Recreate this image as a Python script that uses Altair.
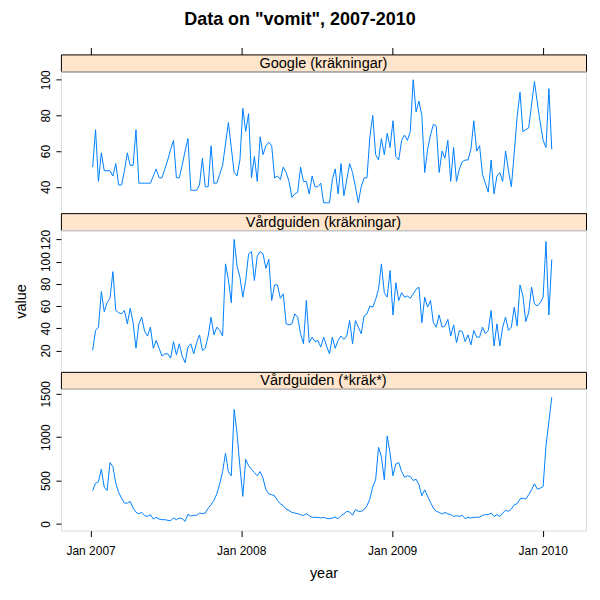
import altair as alt
import pandas as pd

# ---- data (weekly values) ----
dates = pd.date_range("2007-01-06", periods=160, freq="7D").strftime("%Y-%m-%d").tolist()

google = [51, 72, 43, 59, 49, 49, 49, 46, 53, 41,
          41, 49, 59, 52, 52, 72, 42, 42, 42, 42,
          42, 46, 50, 45, 45, 50, 55, 61, 66, 45,
          45, 52, 60, 67, 38, 38, 38, 41, 56, 40,
          40, 63, 42, 42, 47, 52, 64, 76, 62, 48,
          46, 55, 84, 71, 81, 45, 57, 43, 68, 58,
          63, 65, 63, 45, 46, 44, 51, 48, 43, 34,
          36, 37, 51, 43, 43, 36, 46, 40, 40, 42,
          31, 31, 31, 44, 50, 36, 53, 35, 44, 53,
          48, 40, 31, 40, 45, 45, 68, 80, 58, 55,
          67, 58, 70, 62, 77, 57, 55, 66, 69, 66,
          71, 100, 82, 88, 80, 48, 61, 69, 75, 74,
          48, 60, 56, 66, 43, 62, 43, 50, 54, 55,
          55, 61, 77, 60, 63, 47, 42, 37, 55, 36,
          46, 48, 43, 60, 49, 40, 59, 79, 93, 71,
          72, 73, 86, 99, 87, 76, 66, 62, 95, 61]

vard = [20, 38, 41, 73, 55, 63, 67, 91, 56, 54,
        53, 56, 44, 58, 45, 22, 44, 50, 37, 33,
        41, 22, 29, 22, 15, 17, 17, 13, 28, 16,
        26, 15, 9, 23, 26, 17, 27, 34, 20, 22,
        33, 50, 34, 41, 38, 33, 98, 84, 63, 120,
        96, 86, 68, 83, 107, 109, 83, 105, 109, 107,
        94, 102, 65, 79, 79, 67, 71, 44, 43, 44,
        53, 50, 35, 26, 65, 27, 32, 28, 29, 23,
        32, 24, 17, 32, 22, 29, 33, 30, 33, 47,
        26, 47, 41, 35, 51, 53, 60, 59, 66, 75,
        98, 72, 68, 92, 52, 81, 65, 72, 68, 69,
        67, 71, 75, 77, 45, 68, 59, 65, 45, 41,
        52, 41, 42, 48, 33, 43, 27, 38, 37, 28,
        34, 25, 38, 32, 32, 41, 35, 38, 56, 24,
        44, 24, 41, 50, 38, 41, 59, 42, 79, 69,
        46, 54, 77, 62, 60, 63, 68, 118, 52, 102]

krak = [386, 470, 486, 631, 424, 386, 708, 662, 470, 364,
        298, 241, 241, 260, 183, 134, 119, 134, 96, 88,
        108, 57, 77, 57, 50, 50, 42, 38, 69, 50,
        69, 61, 31, 111, 92, 100, 100, 126, 119, 126,
        183, 222, 272, 348, 463, 604, 814, 604, 555, 1319,
        1044, 660, 318, 745, 670, 631, 593, 555, 604, 528,
        394, 348, 337, 326, 272, 233, 211, 172, 157, 134,
        126, 119, 108, 96, 119, 96, 77, 77, 77, 69,
        77, 65, 61, 69, 80, 61, 96, 115, 146, 138,
        100, 165, 146, 146, 165, 211, 287, 432, 509, 883,
        776, 509, 1014, 814, 555, 692, 708, 604, 539, 555,
        547, 501, 516, 452, 326, 394, 318, 249, 183, 146,
        134, 115, 134, 115, 108, 88, 96, 88, 100, 61,
        77, 69, 77, 77, 80, 100, 108, 108, 126, 88,
        108, 88, 126, 157, 146, 172, 222, 233, 287, 298,
        287, 337, 394, 463, 402, 413, 432, 900, 1180, 1460]

strip_labels = ["Google (kräkningar)", "Vårdguiden (kräkningar)", "Vårdguiden (*kräk*)"]
series = [google, vard, krak]
y_domains = [[25.2, 104.7], [0.7, 128.4], [-76, 1557]]
y_ticks = [[40, 60, 80, 100], [20, 40, 60, 80, 100, 120], [0, 500, 1000, 1500]]
tick_years = [2007, 2008, 2009, 2010]

# ---- layout / style ----
W = 526
STRIP_H = 17
PANEL_H = 142
LINE = "#0080ff"
STRIP_FILL = "#FFE5CC"
FONT = "Liberation Sans"

x_scale = alt.Scale(
    type="utc",
    domain=[alt.DateTime(year=2006, month=10, date=21, utc=True),
            alt.DateTime(year=2010, month=4, date=16, utc=True)],
)
tick_values = [alt.DateTime(year=y, month=1, date=1, utc=True) for y in tick_years]


def strip(label, top_axis):
    df = pd.DataFrame({"label": [label], "date": [dates[0]]})
    txt = alt.Chart(df).mark_text(fontSize=14.5, font=FONT, color="black").encode(
        text="label:N",
        x=alt.value(W / 2),
        y=alt.value(STRIP_H / 2 + 1),
    )
    layers = [txt]
    if top_axis:
        ax = alt.Chart(pd.DataFrame({"date": dates[:2]})).mark_point(opacity=0).encode(
            x=alt.X("date:T", scale=x_scale,
                    axis=alt.Axis(orient="top", values=tick_values, labels=False,
                                  tickSize=7, tickColor="black", domain=False,
                                  grid=False, title=None))
        )
        layers.append(ax)
    return alt.layer(*layers).properties(
        width=W, height=STRIP_H,
        view=alt.ViewBackground(fill=STRIP_FILL, stroke="black", strokeWidth=1),
    )


def panel(k, bottom):
    df = pd.DataFrame({"date": dates, "value": series[k]})
    if bottom:
        x_axis = alt.Axis(values=tick_values, format="%b %Y", tickSize=6,
                          tickColor="black", domain=False, grid=False,
                          labelFont=FONT, labelFontSize=12, labelColor="black",
                          labelPadding=9, title="year", titleFont=FONT,
                          titleFontSize=14.5, titleFontWeight="normal",
                          titlePadding=10, titleColor="black")
    else:
        x_axis = None
    y_axis = alt.Axis(values=y_ticks[k], title="value", format="d",
                      titleOpacity=1 if k == 1 else 0,
                      titleFont=FONT, titleFontSize=14.5, titleFontWeight="normal",
                      titleColor="black", titlePadding=11,
                      labelAngle=270, labelAlign="center", labelBaseline="bottom",
                      labelFont=FONT, labelFontSize=12, labelColor="black",
                      labelPadding=3, tickSize=5, tickColor="black",
                      domain=False, grid=False)
    return alt.Chart(df).mark_line(color=LINE, strokeWidth=1).encode(
        x=alt.X("date:T", scale=x_scale, axis=x_axis),
        y=alt.Y("value:Q", scale=alt.Scale(domain=y_domains[k], nice=False, zero=False),
                axis=y_axis),
    ).properties(width=W, height=PANEL_H)


chart = alt.vconcat(
    strip(strip_labels[0], True), panel(0, False),
    strip(strip_labels[1], False), panel(1, False),
    strip(strip_labels[2], False), panel(2, True),
    spacing=0, bounds="flush",
).properties(
    title=alt.TitleParams('Data on "vomit", 2007-2010', font=FONT, fontSize=18,
                          fontWeight="bold", anchor="middle", frame="bounds",
                          offset=17, color="black"),
    padding={"left": 5, "top": 3, "right": 5, "bottom": 5},
).configure_view(stroke="black", strokeWidth=1).configure(background="white")

chart.save("out.html", embed_options={"renderer": "svg", "actions": False})
